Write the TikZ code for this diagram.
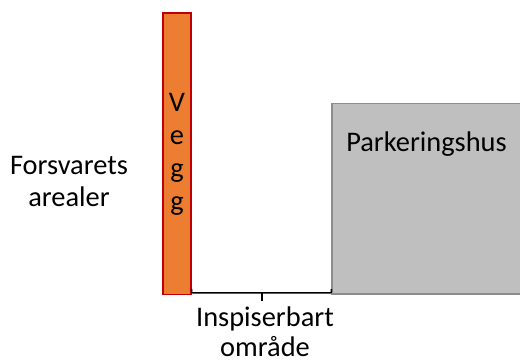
\documentclass[tikz,border=0pt]{standalone}
\usepackage{fontspec}
\setmainfont{Carlito}
\definecolor{wallfill}{HTML}{ED7D31}
\definecolor{walldraw}{HTML}{C00000}
\definecolor{housefill}{HTML}{BFBFBF}
\definecolor{housedraw}{HTML}{8C8C8C}
\tikzset{
  lbl/.style={anchor=base, inner sep=0pt, font=\fontsize{28.4}{32}\selectfont, text=black},
  wallbox/.style={fill=wallfill, draw=walldraw, line width=1.5pt},
  housebox/.style={fill=housefill, draw=housedraw, line width=1.5pt},
  bracepath/.style={draw=black, line width=1.5pt}
}
\begin{document}
\begin{tikzpicture}[x=1pt,y=-1pt]
\useasboundingbox (0,0) rectangle (520,363);
% wall
\draw[wallbox] (163,13) rectangle (191,294.5);
\node[lbl] (v1) at (177,112) {V};
\node[lbl] (v2) at (177,145) {e};
\node[lbl] (v3) at (177,178) {g};
\node[lbl] (v4) at (177,211) {g};
% parking house
\draw[housebox] (332,103.5) rectangle (522,294);
\node[lbl] (p) at (426.5,152) {Parkeringshus};
% left label
\node[lbl] (f1) at (69,175) {Forsvarets};
\node[lbl] (f2) at (69,207) {arealer};
% brace
\draw[bracepath] (191.5,289) .. controls (191.5,293) .. (195,293) -- (328,293) .. controls (331.5,293) .. (331.5,289);
\draw[bracepath] (262,293) -- (262,301);
\node[lbl] (i1) at (265,327) {Inspiserbart};
\node[lbl] (i2) at (265,357) {område};
\end{tikzpicture}
\end{document}
